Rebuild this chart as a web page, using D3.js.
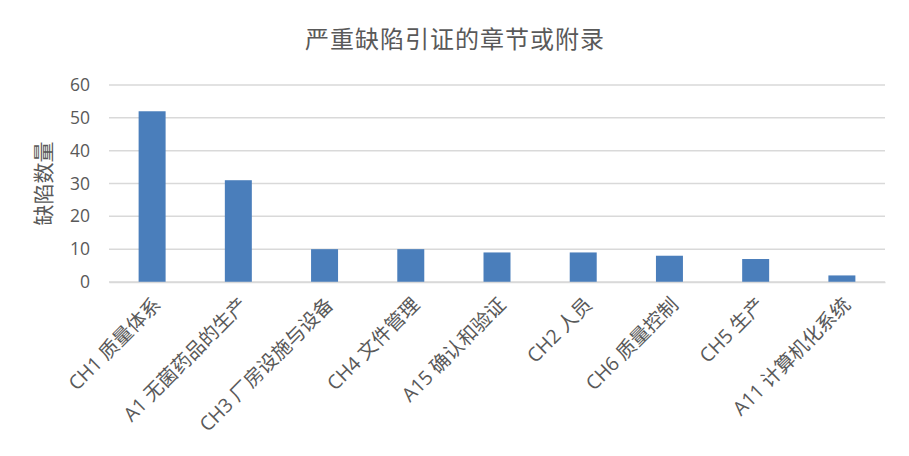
<!DOCTYPE html>
<html>
<head>
<meta charset="utf-8">
<script src="https://cdn.jsdelivr.net/npm/d3@7/dist/d3.min.js"></script>
<style>
  html, body { margin: 0; padding: 0; background: #fff; }
  svg { display: block; }
  text { font-family: "Open Sans", "Noto Sans CJK SC", sans-serif; fill: #595959; }
</style>
</head>
<body>
<svg id="chart" width="909" height="456"></svg>
<script>
// Chapters / annexes cited in critical deficiencies, with their counts
const categories = [
  "CH1 质量体系",
  "A1 无菌药品的生产",
  "CH3 厂房设施与设备",
  "CH4 文件管理",
  "A15 确认和验证",
  "CH2 人员",
  "CH6 质量控制",
  "CH5 生产",
  "A11 计算机化系统"
];
const deficiencyCounts = [52, 31, 10, 10, 9, 9, 8, 7, 2];
const yTicks = [0, 10, 20, 30, 40, 50, 60];
const titleText = "严重缺陷引证的章节或附录";
const yAxisTitle = "缺陷数量";

const svg = d3.select("#chart");
const margin = { left: 109, right: 24, top: 85, bottom: 174 };
const width = 909, height = 456;

const x = d3.scaleBand()
  .domain(categories)
  .range([margin.left, width - margin.right])
  .paddingInner(0.687)
  .paddingOuter(0.3435);

const y = d3.scaleLinear()
  .domain([0, 60])
  .range([height - margin.bottom, margin.top]);

// title
svg.append("text")
  .attr("x", 455)
  .attr("y", 48)
  .attr("text-anchor", "middle")
  .style("font-size", "24px")
  .style("letter-spacing", "1px")
  .text(titleText);

// horizontal gridlines
svg.append("g")
  .selectAll("line")
  .data(yTicks)
  .join("line")
  .attr("x1", margin.left)
  .attr("x2", width - margin.right)
  .attr("y1", d => y(d))
  .attr("y2", d => y(d))
  .attr("stroke", "#d9d9d9")
  .attr("stroke-width", 1.5);

// y axis tick labels
const yAxis = d3.axisLeft(y).tickValues(yTicks).tickSize(0).tickPadding(0);
const gy = svg.append("g")
  .attr("transform", `translate(${margin.left - 19},0)`)
  .call(yAxis);
gy.select(".domain").remove();
gy.selectAll("text")
  .style("font-size", "17.5px")
  .style("font-family", "'Open Sans', sans-serif")
  .attr("fill", "#595959");

// y axis title
svg.append("text")
  .attr("transform", `translate(51,${(y(0) + y(60)) / 2}) rotate(-90)`)
  .attr("text-anchor", "middle")
  .style("font-size", "21px")
  .text(yAxisTitle);

// bars
svg.append("g")
  .selectAll("rect")
  .data(deficiencyCounts)
  .join("rect")
  .attr("x", (d, i) => x(categories[i]))
  .attr("width", x.bandwidth())
  .attr("y", d => y(d))
  .attr("height", d => y(0) - y(d))
  .attr("fill", "#4a7ebb");

// x axis with rotated category labels
const xAxis = d3.axisBottom(x).tickSize(0).tickPadding(0);
const gx = svg.append("g")
  .attr("transform", `translate(0,${y(0)})`)
  .call(xAxis);
gx.select(".domain").attr("stroke", "#d9d9d9").attr("stroke-width", 1.5);
gx.selectAll("text")
  .style("font-size", "19.5px")
  .attr("fill", "#595959")
  .attr("text-anchor", "end")
  .attr("dy", "0")
  .attr("y", 0)
  .attr("transform", "translate(10,24) rotate(-45)");
</script>
</body>
</html>
